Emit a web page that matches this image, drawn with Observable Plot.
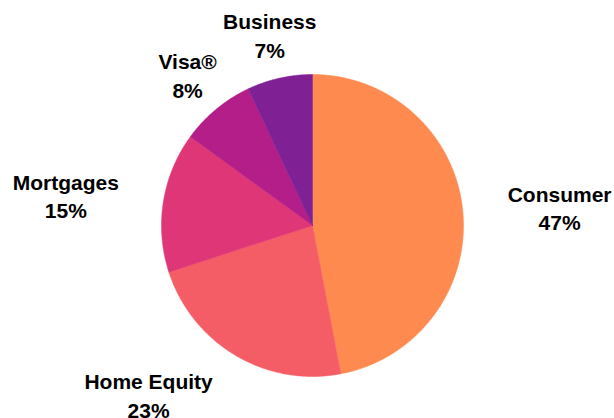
<!DOCTYPE html>
<html>
<head>
<meta charset="utf-8">
<script src="https://cdn.jsdelivr.net/npm/d3@7"></script>
<script src="https://cdn.jsdelivr.net/npm/@observablehq/plot@0.6"></script>
<style>
  html, body { margin: 0; padding: 0; background: #fff; }
  #chart svg { display: block; }
</style>
</head>
<body>
<div id="chart"></div>
<script>
const categories = ["Consumer", "Home Equity", "Mortgages", "Visa®", "Business"];
const values = [47, 23, 15, 8, 7];
const colors = ["#FF8A50", "#F55D66", "#DE3676", "#B31E88", "#7F2194"];

const W = 614, H = 418;
const cx = 312, cy = 225, R = 151, labelR = 196;
const fontSize = 21;
const fontFamily = "'Liberation Sans', Arial, sans-serif";

const arcs = d3.pie().sort(null).value(d => d.value)(
  categories.map((c, i) => ({label: c, value: values[i]}))
);

// outline points of each slice (center + arc), for a filled line path
const slicePts = [];
for (const a of arcs) {
  slicePts.push({label: a.data.label, x: cx, y: cy});
  const n = Math.max(2, Math.ceil((a.endAngle - a.startAngle) / (Math.PI / 360)));
  for (let k = 0; k <= n; k++) {
    const t = a.startAngle + (a.endAngle - a.startAngle) * k / n;
    slicePts.push({label: a.data.label, x: cx + R * Math.sin(t), y: cy - R * Math.cos(t)});
  }
  slicePts.push({label: a.data.label, x: cx, y: cy});
}

const ctx = document.createElement("canvas").getContext("2d");
ctx.font = `bold ${fontSize}px ${fontFamily}`;

const labels = arcs.map(a => {
  const m = (a.startAngle + a.endAngle) / 2;
  const sx = Math.sin(m), sy = -Math.cos(m);
  const lines = [a.data.label, `${a.data.value}%`];
  const w = Math.max(...lines.map(l => ctx.measureText(l).width));
  const px = cx + labelR * sx, py = cy + labelR * sy;
  const shift = sy < -0.7 ? 0 : (sx >= 0 ? w / 2 : -w / 2);
  return {x: px + shift, y: py, text: lines.join("\n")};
});

const chart = Plot.plot({
  width: W,
  height: H,
  margin: 0,
  x: {domain: [0, W], range: [0, W], axis: null},
  y: {domain: [0, H], range: [0, H], axis: null},
  color: {domain: categories, range: colors},
  style: {background: "#fff", overflow: "visible"},
  marks: [
    Plot.line(slicePts, {x: "x", y: "y", z: "label", fill: "label", stroke: "label", strokeWidth: 0.5, curve: "linear"}),
    Plot.text(labels, {
      x: "x", y: "y", text: "text",
      fill: "#000",
      fontSize,
      fontWeight: "bold",
      fontFamily,
      lineHeight: 1.36,
      lineAnchor: "middle",
      textAnchor: "middle"
    })
  ]
});
document.getElementById("chart").appendChild(chart);
</script>
</body>
</html>
